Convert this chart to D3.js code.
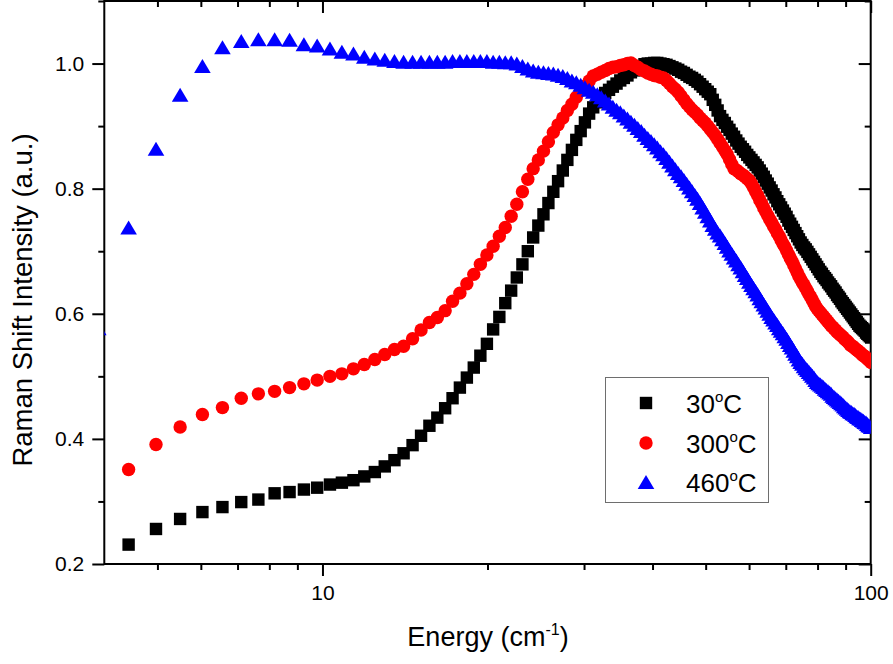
<!DOCTYPE html>
<html>
<head>
<meta charset="utf-8">
<script src="https://cdn.jsdelivr.net/npm/d3@7/dist/d3.min.js"></script>
<style>
  body { margin: 0; background: #fff; }
  text { font-family: "Liberation Sans", Arial, sans-serif; fill: #000; }
</style>
</head>
<body>
<div id="chart"></div>
<script>
// energy grid (cm-1)
const energy = [3.90,
  4.43, 4.97, 5.50, 6.04, 6.57, 7.11, 7.64, 8.18, 8.71, 9.25, 9.78, 10.32, 10.85, 11.39, 11.92, 12.46, 12.99, 13.53, 14.06, 14.60,
  15.13, 15.67, 16.20, 16.74, 17.27, 17.81, 18.34, 18.88, 19.41, 19.95, 20.48, 21.02, 21.55, 22.09, 22.62, 23.16, 23.69, 24.23, 24.76, 25.30,
  25.83, 26.37, 26.90, 27.44, 27.97, 28.51, 29.04, 29.58, 30.11, 30.65, 31.18, 31.72, 32.25, 32.79, 33.32, 33.86, 34.39, 34.93, 35.46, 36.00,
  36.53, 37.07, 37.60, 38.14, 38.67, 39.21, 39.74, 40.28, 40.81, 41.35, 41.88, 42.42, 42.95, 43.49, 44.02, 44.56, 45.09, 45.63, 46.16, 46.70,
  47.23, 47.77, 48.30, 48.84, 49.37, 49.91, 50.44, 50.98, 51.51, 52.05, 52.58, 53.12, 53.65, 54.19, 54.72, 55.26, 55.79, 56.33, 56.86, 57.40,
  57.93, 58.47, 59.00, 59.54, 60.07, 60.61, 61.14, 61.68, 62.21, 62.75, 63.28, 63.82, 64.35, 64.89, 65.42, 65.96, 66.49, 67.03, 67.56, 68.10,
  68.63, 69.17, 69.70, 70.24, 70.77, 71.31, 71.84, 72.38, 72.91, 73.45, 73.98, 74.52, 75.05, 75.59, 76.12, 76.66, 77.19, 77.73, 78.26, 78.80,
  79.33, 79.87, 80.40, 80.94, 81.47, 82.01, 82.54, 83.08, 83.61, 84.15, 84.68, 85.22, 85.75, 86.29, 86.82, 87.36, 87.89, 88.43, 88.96, 89.50,
  90.03, 90.57, 91.10, 91.64, 92.17, 92.71, 93.24, 93.78, 94.31, 94.85, 95.38, 95.92, 96.45, 96.99, 97.52, 98.06, 98.59, 99.13, 99.66, 100.20];

const int30 = [null,
  0.231, 0.256, 0.272, 0.283, 0.291, 0.299, 0.303, 0.313, 0.315, 0.319, 0.322, 0.327, 0.330, 0.334, 0.340, 0.347, 0.356, 0.366, 0.377, 0.390,
  0.405, 0.421, 0.434, 0.449, 0.465, 0.482, 0.498, 0.514, 0.533, 0.552, 0.575, 0.595, 0.617, 0.637, 0.658, 0.679, 0.700, 0.722, 0.741, 0.759,
  0.777, 0.795, 0.812, 0.829, 0.846, 0.862, 0.878, 0.892, 0.906, 0.920, 0.930, 0.938, 0.946, 0.953, 0.958, 0.963, 0.968, 0.973, 0.977, 0.981,
  0.986, 0.989, 0.993, 0.996, 0.999, 1.000, 1.000, 1.001, 1.001, 1.000, 0.999, 0.998, 0.996, 0.994, 0.992, 0.990, 0.987, 0.985, 0.982, 0.979,
  0.977, 0.974, 0.971, 0.967, 0.963, 0.959, 0.955, 0.951, 0.942, 0.934, 0.925, 0.916, 0.910, 0.905, 0.899, 0.894, 0.888, 0.883, 0.877, 0.872,
  0.867, 0.863, 0.859, 0.854, 0.850, 0.846, 0.842, 0.838, 0.834, 0.829, 0.824, 0.819, 0.813, 0.808, 0.802, 0.797, 0.791, 0.786, 0.780, 0.775,
  0.770, 0.765, 0.760, 0.755, 0.749, 0.744, 0.739, 0.734, 0.729, 0.724, 0.719, 0.714, 0.710, 0.706, 0.703, 0.699, 0.695, 0.691, 0.687, 0.683,
  0.679, 0.675, 0.671, 0.667, 0.664, 0.660, 0.657, 0.654, 0.650, 0.647, 0.644, 0.640, 0.637, 0.634, 0.630, 0.627, 0.624, 0.620, 0.617, 0.614,
  0.611, 0.608, 0.605, 0.602, 0.599, 0.596, 0.593, 0.590, 0.587, 0.584, 0.581, 0.579, 0.577, 0.575, 0.573, 0.570, 0.568, 0.566, 0.564, 0.562];

const int300 = [null,
  0.351, 0.391, 0.419, 0.439, 0.450, 0.465, 0.472, 0.476, 0.482, 0.488, 0.494, 0.500, 0.504, 0.512, 0.519, 0.527, 0.535, 0.543, 0.548, 0.560,
  0.574, 0.586, 0.594, 0.605, 0.620, 0.633, 0.648, 0.663, 0.679, 0.694, 0.708, 0.724, 0.738, 0.756, 0.775, 0.795, 0.815, 0.832, 0.846, 0.860,
  0.875, 0.890, 0.902, 0.913, 0.925, 0.935, 0.946, 0.957, 0.964, 0.972, 0.980, 0.983, 0.986, 0.989, 0.992, 0.994, 0.995, 0.997, 0.998, 1.000,
  1.001, 0.997, 0.994, 0.990, 0.988, 0.985, 0.983, 0.981, 0.980, 0.978, 0.977, 0.973, 0.968, 0.963, 0.959, 0.954, 0.948, 0.942, 0.936, 0.931,
  0.926, 0.922, 0.918, 0.913, 0.909, 0.905, 0.900, 0.895, 0.890, 0.885, 0.879, 0.873, 0.867, 0.861, 0.855, 0.847, 0.839, 0.832, 0.830, 0.827,
  0.824, 0.822, 0.819, 0.816, 0.813, 0.808, 0.802, 0.795, 0.789, 0.782, 0.776, 0.769, 0.763, 0.757, 0.751, 0.746, 0.740, 0.735, 0.729, 0.724,
  0.718, 0.712, 0.707, 0.701, 0.695, 0.689, 0.684, 0.678, 0.672, 0.666, 0.660, 0.655, 0.650, 0.646, 0.641, 0.636, 0.631, 0.627, 0.622, 0.617,
  0.612, 0.608, 0.605, 0.602, 0.599, 0.596, 0.593, 0.590, 0.587, 0.584, 0.581, 0.579, 0.576, 0.574, 0.571, 0.569, 0.567, 0.565, 0.563, 0.560,
  0.558, 0.556, 0.554, 0.551, 0.549, 0.548, 0.546, 0.544, 0.542, 0.541, 0.539, 0.537, 0.535, 0.533, 0.532, 0.530, 0.528, 0.526, 0.524, 0.522];

const int460 = [0.577,
  0.738, 0.864, 0.950, 0.996, 1.026, 1.036, 1.039, 1.039, 1.038, 1.031, 1.029, 1.024, 1.019, 1.016, 1.011, 1.008, 1.006, 1.004, 1.003, 1.003,
  1.003, 1.003, 1.003, 1.003, 1.004, 1.004, 1.004, 1.004, 1.004, 1.004, 1.003, 1.003, 1.002, 1.002, 1.000, 0.996, 0.992, 0.989, 0.987, 0.986,
  0.985, 0.984, 0.982, 0.980, 0.977, 0.973, 0.970, 0.966, 0.962, 0.958, 0.955, 0.951, 0.946, 0.941, 0.936, 0.931, 0.926, 0.922, 0.917, 0.912,
  0.907, 0.902, 0.897, 0.892, 0.886, 0.881, 0.876, 0.871, 0.866, 0.860, 0.855, 0.849, 0.843, 0.837, 0.831, 0.825, 0.820, 0.814, 0.808, 0.802,
  0.796, 0.790, 0.784, 0.777, 0.770, 0.763, 0.756, 0.749, 0.742, 0.736, 0.730, 0.725, 0.719, 0.713, 0.707, 0.701, 0.696, 0.690, 0.685, 0.679,
  0.674, 0.668, 0.662, 0.657, 0.651, 0.646, 0.641, 0.636, 0.631, 0.625, 0.620, 0.615, 0.610, 0.605, 0.600, 0.595, 0.591, 0.586, 0.582, 0.577,
  0.573, 0.569, 0.564, 0.560, 0.555, 0.550, 0.546, 0.541, 0.536, 0.532, 0.527, 0.523, 0.520, 0.516, 0.513, 0.510, 0.507, 0.504, 0.501, 0.498,
  0.494, 0.491, 0.489, 0.487, 0.485, 0.483, 0.480, 0.478, 0.476, 0.474, 0.472, 0.469, 0.467, 0.465, 0.463, 0.461, 0.459, 0.457, 0.455, 0.452,
  0.450, 0.448, 0.446, 0.444, 0.443, 0.441, 0.440, 0.438, 0.436, 0.435, 0.433, 0.432, 0.430, 0.429, 0.427, 0.426, 0.424, 0.422, 0.421, 0.419];

const seriesLabels = ['30', '300', '460'];
const xMajor = [10, 100];
const xMinor = [5, 6, 7, 8, 9, 20, 30, 40, 50, 60, 70, 80, 90];
const yMajor = [0.2, 0.4, 0.6, 0.8, 1.0];
const yMinor = [0.3, 0.5, 0.7, 0.9, 1.1];

const canvas_w = 893;
const canvas_h = 664;
const plotL = 104.3, plotR = 870.7, plotT = 1, plotB = 564;

let x = d3.scaleLog().domain([4, 100]).range([plotL, plotR]);
let y = d3.scaleLinear().domain([0.2, 1.1]).range([plotB, plotT]);

let svg = d3.select('#chart')
            .append('svg')
            .attr('width', canvas_w)
            .attr('height', canvas_h);

svg.append('clipPath')
   .attr('id', 'plotclip')
   .append('rect')
   .attr('x', plotL).attr('y', plotT)
   .attr('width', plotR - plotL).attr('height', plotB - plotT);

// axes: major/minor ticks, outward on bottom/left, inward on top/right
function styleAxis(g) {
    g.select('.domain').remove();
    g.selectAll('line').attr('stroke', '#000').attr('stroke-width', 2);
    g.selectAll('text').style('font-size', '21px').attr('fill', '#000');
}

svg.append('g').attr('transform', `translate(0,${plotB})`)
   .call(d3.axisBottom(x).tickValues(xMajor).tickSize(12).tickPadding(9).tickFormat(d3.format('d')))
   .call(styleAxis);
svg.append('g').attr('transform', `translate(0,${plotB})`)
   .call(d3.axisBottom(x).tickValues(xMinor).tickSize(6).tickFormat(''))
   .call(styleAxis);
svg.append('g').attr('transform', `translate(0,${plotT})`)
   .call(d3.axisTop(x).tickValues(xMajor).tickSize(-12).tickFormat(''))
   .call(styleAxis);
svg.append('g').attr('transform', `translate(0,${plotT})`)
   .call(d3.axisTop(x).tickValues(xMinor).tickSize(-6).tickFormat(''))
   .call(styleAxis);

svg.append('g').attr('transform', `translate(${plotL},0)`)
   .call(d3.axisLeft(y).tickValues(yMajor).tickSize(12).tickPadding(8).tickFormat(d3.format('.1f')))
   .call(styleAxis);
svg.append('g').attr('transform', `translate(${plotL},0)`)
   .call(d3.axisLeft(y).tickValues(yMinor).tickSize(6).tickFormat(''))
   .call(styleAxis);
svg.append('g').attr('transform', `translate(${plotR},0)`)
   .call(d3.axisRight(y).tickValues(yMajor).tickSize(-12).tickFormat(''))
   .call(styleAxis);
svg.append('g').attr('transform', `translate(${plotR},0)`)
   .call(d3.axisRight(y).tickValues(yMinor).tickSize(-6).tickFormat(''))
   .call(styleAxis);

svg.append('rect')
   .attr('x', plotL).attr('y', plotT)
   .attr('width', plotR - plotL).attr('height', plotB - plotT)
   .attr('fill', 'none').attr('stroke', '#000').attr('stroke-width', 2);

// markers
const triPath = 'M0,-7L8.3,7L-8.3,7Z';
let plot = svg.append('g').attr('clip-path', 'url(#plotclip)');

function pts(vals) {
    return energy.map((e, i) => ({ e: e, v: vals[i] })).filter(d => d.v !== null);
}

plot.append('g').selectAll('rect')
    .data(pts(int30)).enter()
    .append('rect')
    .attr('x', d => x(d.e) - 6.2).attr('y', d => y(d.v) - 6.2)
    .attr('width', 12.4).attr('height', 12.4)
    .attr('fill', '#000');

plot.append('g').selectAll('circle')
    .data(pts(int300)).enter()
    .append('circle')
    .attr('cx', d => x(d.e)).attr('cy', d => y(d.v))
    .attr('r', 6.7)
    .attr('fill', '#ff0000');

plot.append('g').selectAll('path')
    .data(pts(int460)).enter()
    .append('path')
    .attr('d', triPath)
    .attr('transform', d => `translate(${x(d.e)},${y(d.v)})`)
    .attr('fill', '#0000ff');

// legend
let legend = svg.append('g');
legend.append('rect')
      .attr('x', 605.5).attr('y', 377.5).attr('width', 163).attr('height', 125)
      .attr('fill', '#fff').attr('stroke', '#6e6e6e').attr('stroke-width', 1);

const rowY = [403, 443, 482];
legend.append('rect').attr('x', 646 - 6.2).attr('y', rowY[0] - 6.2)
      .attr('width', 12.4).attr('height', 12.4).attr('fill', '#000');
legend.append('circle').attr('cx', 646).attr('cy', rowY[1]).attr('r', 6.7).attr('fill', '#ff0000');
legend.append('path').attr('d', triPath).attr('transform', `translate(646,${rowY[2]})`).attr('fill', '#0000ff');

seriesLabels.forEach((s, i) => {
    let t = legend.append('text')
                  .attr('x', 686).attr('y', rowY[i] + 10)
                  .style('font-size', '26px');
    t.append('tspan').text(s);
    t.append('tspan').text('o').style('font-size', '15px').attr('dy', -11);
    t.append('tspan').text('C').attr('dy', 11);
});

// axis titles
let xt = svg.append('text')
            .attr('x', 488).attr('y', 646)
            .attr('text-anchor', 'middle')
            .style('font-size', '27px');
xt.append('tspan').text('Energy (cm');
xt.append('tspan').text('-1').style('font-size', '16px').attr('dy', -11);
xt.append('tspan').text(')').attr('dy', 11);

svg.append('text')
   .attr('transform', 'translate(32,300) rotate(-90)')
   .attr('text-anchor', 'middle')
   .style('font-size', '27.5px')
   .text('Raman Shift Intensity (a.u.)');
</script>
</body>
</html>
